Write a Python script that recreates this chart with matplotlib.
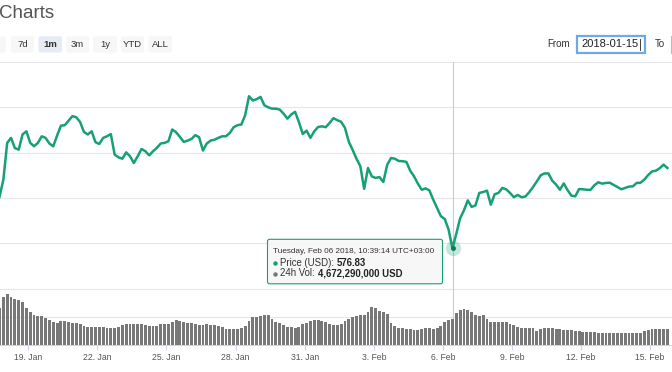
import matplotlib
matplotlib.use('Agg')
import matplotlib.pyplot as plt
import matplotlib.dates as mdates
from matplotlib.patches import FancyBboxPatch, Rectangle
import pandas as pd

plt.rcParams['font.family'] = ['Liberation Sans', 'DejaVu Sans']

# price (USD), one reading every 4 hours from 2018-01-17 18:00
price = [805, 880, 1043, 1065, 1020, 1013, 1080, 1094, 1043, 1028,
         1043, 1072, 1065, 1040, 1028, 1075, 1119, 1121, 1141, 1161,
         1156, 1135, 1091, 1080, 1094, 1046, 1038, 1065, 1072, 1082,
         991, 979, 973, 1001, 984, 954, 984, 1016, 1006, 988,
         1006, 1021, 1040, 1043, 1050, 1102, 1090, 1069, 1047, 1053,
         1060, 1077, 1068, 1009, 1040, 1053, 1057, 1065, 1072, 1072,
         1087, 1112, 1121, 1124, 1165, 1249, 1230, 1236, 1246, 1209,
         1200, 1194, 1194, 1190, 1172, 1150, 1168, 1180, 1135, 1082,
         1097, 1065, 1094, 1113, 1116, 1112, 1131, 1152, 1143, 1136,
         1109, 1048, 1012, 973, 940, 840, 932, 895, 888, 892,
         870, 946, 976, 973, 963, 962, 959, 920, 895, 863,
         836, 842, 833, 792, 755, 719, 707, 660, 577, 641,
         710, 745, 789, 760, 767, 822, 826, 832, 770, 816,
         822, 844, 838, 822, 803, 813, 803, 806, 825, 848,
         873, 900, 908, 908, 876, 859, 836, 864, 834, 810,
         807, 839, 838, 836, 836, 856, 869, 863, 866, 867,
         857, 848, 838, 844, 850, 851, 866, 867, 881, 901,
         917, 920, 931, 947, 932]

# 24h volume (billion USD), same timestamps
volume = [6.47, 8.53, 9.0, 8.42, 8.18, 7.95, 7.6, 6.53, 5.83, 5.24,
          5.12, 5.06, 4.82, 4.47, 4.12, 3.94, 4.3, 4.24, 4.0, 3.82,
          3.82, 3.76, 3.35, 3.23, 3.23, 3.23, 3.12, 3.12, 3.06, 2.94,
          3.06, 3.23, 3.47, 3.65, 3.65, 3.71, 3.65, 3.65, 3.47, 3.35,
          3.35, 3.41, 3.65, 3.71, 3.76, 4.12, 4.35, 4.3, 4.0, 3.88,
          3.88, 3.76, 3.59, 3.53, 3.65, 3.53, 3.47, 3.35, 3.18, 2.88,
          2.76, 2.76, 2.88, 3.06, 3.41, 4.3, 4.94, 5.0, 5.18, 5.35,
          5.3, 4.65, 4.0, 3.82, 3.53, 3.23, 3.12, 3.0, 3.12, 3.65,
          3.94, 4.18, 4.35, 4.41, 4.3, 4.0, 3.71, 3.53, 3.53, 3.71,
          4.18, 4.53, 5.0, 5.18, 5.3, 5.35, 5.88, 6.77, 6.47, 6.06,
          5.77, 5.41, 3.94, 3.35, 3.06, 2.94, 2.88, 2.76, 2.59, 2.59,
          2.82, 2.94, 2.94, 2.88, 3.06, 3.41, 4.0, 4.35, 4.67, 5.65,
          6.24, 6.3, 6.24, 5.88, 5.35, 5.12, 5.24, 4.53, 4.12, 4.0,
          4.12, 4.12, 4.0, 3.76, 3.53, 3.23, 3.06, 3.06, 3.06, 2.94,
          2.47, 2.88, 3.0, 2.94, 2.94, 2.82, 2.76, 2.65, 2.59, 2.59,
          2.53, 2.47, 2.35, 2.35, 2.29, 2.23, 2.17, 2.17, 2.17, 2.17,
          2.17, 2.12, 2.06, 2.06, 2.06, 2.06, 2.12, 2.17, 2.47, 2.59,
          2.76, 2.76, 2.82, 2.88, 2.76]

times = pd.date_range('2018-01-17 18:00', periods=len(price), freq='4h')

tick_dates = pd.date_range('2018-01-19', '2018-02-15', freq='3D')
tick_labels = ['19. Jan', '22. Jan', '25. Jan', '28. Jan', '31. Jan',
               '3. Feb', '6. Feb', '9. Feb', '12. Feb', '15. Feb']

# first button is cut off at the left edge, its label is not visible
buttons = ['', '7d', '1m', '3m', '1y', 'YTD', 'ALL']
hover_time = pd.Timestamp('2018-02-06 10:39:14')
hover_price = 576.83
hover_vol = '4,672,290,000'

GREEN = '#17a077'
GRID = '#e6e6e6'
W, H = 672, 372

fig = plt.figure(figsize=(W / 100, H / 100), dpi=100)


def rect(x0, y0, x1, y1):
    # pixel box, top-left origin -> figure fraction
    return [x0 / W, 1 - y1 / H, (x1 - x0) / W, (y1 - y0) / H]


ax = fig.add_axes(rect(0, 62, W, 288.5))
axv = fig.add_axes(rect(0, 288.5, W, 345), sharex=ax)

x0 = mdates.date2num(pd.Timestamp('2018-01-19')) - 28.3 / 23.03
ax.set_xlim(x0, x0 + W / 23.03)

# price panel
ax.plot(times, price, color=GREEN, lw=1.8, zorder=3, solid_joinstyle='round')
ax.set_ylim(400, 1400)
ax.set_yticks(range(400, 1401, 200))
ax.grid(axis='y', color=GRID, lw=0.8)
ax.tick_params(left=False, bottom=False, labelleft=False, labelbottom=False)
for s in ax.spines.values():
    s.set_visible(False)
ax.axvline(hover_time, color='#cccccc', lw=0.8, zorder=2)
ax.plot([hover_time], [hover_price], 'o', ms=11, color=GREEN, alpha=0.25,
        mec='none', zorder=4)
ax.plot([hover_time], [hover_price], 'o', ms=2.5, color='#127a5a', zorder=5)

# volume panel
axv.bar(times, volume, width=0.125, color='#787878', zorder=3)
axv.set_ylim(0, 10)
axv.set_yticks([5, 10])
axv.grid(axis='y', color=GRID, lw=0.8)
axv.axvline(hover_time, color='#cccccc', lw=0.8, zorder=2)
for k in ['top', 'left', 'right']:
    axv.spines[k].set_visible(False)
axv.spines['bottom'].set_color('#ccd6eb')
axv.spines['bottom'].set_linewidth(0.8)
axv.set_xticks(tick_dates)
axv.set_xticklabels(tick_labels)
axv.tick_params(axis='x', length=3.6, width=0.8, color='#ccd6eb', pad=2.5,
                labelsize=6.2, labelcolor='#555555')
axv.tick_params(axis='y', left=False, labelleft=False)

# page elements drawn on top in pixel coordinates
ov = fig.add_axes([0, 0, 1, 1])
ov.set_xlim(0, W)
ov.set_ylim(H, 0)
ov.axis('off')

ov.text(-1.5, 14, 'Charts', fontsize=13.5, color='#555555', va='center', ha='left')

btn_x = [(-17, 6), (11, 34), (38.5, 62), (66, 89), (93, 117), (121, 144), (148.5, 172)]
for label, (bx0, bx1) in zip(buttons, btn_x):
    sel = label == '1m'
    ov.add_patch(FancyBboxPatch((bx0, 36.3), bx1 - bx0, 16.2,
                                boxstyle='round,pad=0,rounding_size=2',
                                fc='#e6ebf5' if sel else '#f7f7f7', ec='none'))
    if label:
        ov.text((bx0 + bx1) / 2, 44.6, label, fontsize=6.8, color='#333333',
                ha='center', va='center', fontweight='bold' if sel else 'normal')

ov.text(570, 44.3, 'From', fontsize=7, color='#333333', ha='right', va='center')
ov.add_patch(Rectangle((576.5, 36), 68, 16.5, fc='white', ec='#6fa8e6', lw=1.6))
ov.text(581.5, 44.3, '2018-01-15', fontsize=8, color='#222222', ha='left', va='center')
ov.plot([639.5, 639.5], [38.5, 50], color='#222222', lw=0.6)
ov.text(655, 44.3, 'To', fontsize=7, color='#333333', ha='left', va='center')
ov.add_patch(Rectangle((670.5, 36), 20, 16.5, fc='white', ec='#bbbbbb', lw=0.8))

# tooltip
ov.add_patch(FancyBboxPatch((267.5, 239.3), 175, 44.5,
                            boxstyle='round,pad=0,rounding_size=2',
                            fc=(0.97, 0.97, 0.97, 0.88), ec=GREEN, lw=0.8, zorder=6))
ov.text(273, 251.7, 'Tuesday, Feb 06 2018, 10:39:14 UTC+03:00', fontsize=5.9,
        color='#333333', va='center', ha='left', zorder=7)
ov.plot([275], [262.8], 'o', ms=2.2, color=GREEN, zorder=7)
ov.text(280.5, 262.8, 'Price (USD):', fontsize=6.9, color='#333333',
        va='center', ha='left', zorder=7)
ov.text(336.5, 262.8, f'{hover_price:.2f}', fontsize=6.9, color='#222222',
        fontweight='bold', va='center', ha='left', zorder=7)
ov.plot([275], [273.5], 'o', ms=2.2, color='#777777', zorder=7)
ov.text(280.5, 273.5, '24h Vol:', fontsize=6.9, color='#333333',
        va='center', ha='left', zorder=7)
ov.text(318.5, 273.5, f'{hover_vol} USD', fontsize=6.9, color='#222222',
        fontweight='bold', va='center', ha='left', zorder=7)

fig.savefig('out.png', dpi=100)
